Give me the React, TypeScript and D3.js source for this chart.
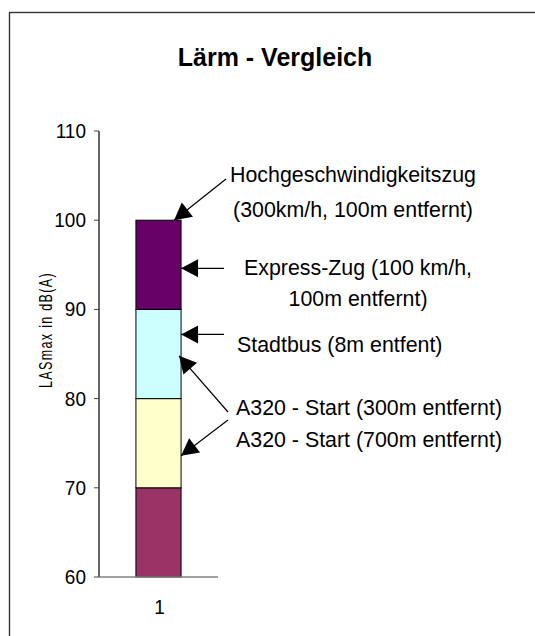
import React from 'react';
import * as d3 from 'd3';

// chart data
const categories = ['1'];
const seriesNames = ['Reihe1', 'Reihe2', 'Reihe3', 'Reihe4'];
const seriesValues = [70, 10, 10, 10];
const yTicks = [60, 70, 80, 90, 100, 110];
const yDomain = [60, 110];

// annotations: text lines and the level (dB) the arrow points at
const annotationLines = [
    ['Hochgeschwindigkeitszug', '(300km/h, 100m entfernt)'],
    ['Express-Zug (100 km/h,', '100m entfernt)'],
    ['Stadtbus (8m entfent)'],
    ['A320 - Start (300m entfernt)'],
    ['A320 - Start (700m entfernt)'],
];
const annotationLevels = [100, 94.6, 87.2, 84.8, 73.6];

const colors = ['#993366', '#FFFFCC', '#CCFFFF', '#660066'];

const W = 535;
const H = 636;
const FONT = '"Liberation Sans", Arial, sans-serif';

// where each annotation text block sits and where its arrow starts
const labelLayout = [
    { x: 353, ys: [182, 217], anchor: 'middle', from: [226, 179], tipDx: -7 },
    { x: 358, ys: [275, 306], anchor: 'middle', from: [224, null], tipDx: 0 },
    { x: 237, ys: [352], anchor: 'start', from: [224, null], tipDx: 0 },
    { x: 236, ys: [415], anchor: 'start', from: [228, 412], tipDx: -2 },
    { x: 236, ys: [447], anchor: 'start', from: [228, 420], tipDx: 0 },
];

const SqText: React.FC<{ x: number; y: number; sx?: number; size: number; anchor?: string; weight?: string; children: React.ReactNode }> =
    ({ x, y, sx = 1, size, anchor = 'start', weight = 'normal', children }) => (
        <text transform={`translate(${x},${y}) scale(${sx},1)`} fontSize={size} fontFamily={FONT}
            textAnchor={anchor} fontWeight={weight} fill="#000">{children}</text>
    );

function arrowHead(x1: number, y1: number, x2: number, y2: number, len = 17, half = 9) {
    const a = Math.atan2(y2 - y1, x2 - x1);
    const bx = x2 - len * Math.cos(a);
    const by = y2 - len * Math.sin(a);
    const px = -Math.sin(a) * half;
    const py = Math.cos(a) * half;
    return `${x2},${y2} ${bx + px},${by + py} ${bx - px},${by - py}`;
}

export default function App() {
    const y = d3.scaleLinear().domain(yDomain).range([577, 131]);
    const x = d3.scaleBand().domain(categories).range([99, 218]).paddingInner(0.45).paddingOuter(0.45);

    const table = categories.map((c) => {
        const row: Record<string, any> = { cat: c };
        seriesNames.forEach((s, i) => { row[s] = seriesValues[i]; });
        return row;
    });
    const stacked = d3.stack().keys(seriesNames)(table as any);

    const bx = x(categories[0]) as number;
    const bw = x.bandwidth();
    const axisX = 99;
    const baseY = y(yDomain[0]);

    return (
        <svg width={W} height={H} style={{ position: 'absolute', left: 0, top: 0, background: '#fff' }}>
            <rect x={9.5} y={12.5} width={W + 20} height={H} fill="#fff" stroke="#333" strokeWidth={1.4} />

            <SqText x={275} y={66} size={25} weight="bold" anchor="middle">Lärm - Vergleich</SqText>

            {/* y axis label */}
            <text transform={`translate(52,330) rotate(-90) scale(0.66,1)`} fontSize={19} fontFamily={FONT}
                textAnchor="middle" letterSpacing={2} fill="#000">LASmax in dB(A)</text>

            {/* bars */}
            {stacked.map((layer, i) =>
                layer.map((d, j) => {
                    const lo = Math.max(d[0], yDomain[0]);
                    const hi = d[1];
                    return (
                        <rect key={`${i}-${j}`} x={x(categories[j])} y={y(hi)} width={bw} height={y(lo) - y(hi)}
                            fill={colors[i]} stroke="#000" strokeWidth={1} />
                    );
                })
            )}

            {/* axes */}
            <line x1={axisX} x2={axisX} y1={y(yDomain[1])} y2={baseY} stroke="#000" strokeWidth={1.2} />
            <line x1={axisX} x2={218} y1={baseY} y2={baseY} stroke="#808080" strokeWidth={1.5} />
            {yTicks.map((t) => (
                <g key={t}>
                    <line x1={94} x2={axisX} y1={y(t)} y2={y(t)} stroke="#444" strokeWidth={1} />
                    <SqText x={86} y={y(t) + 7} size={20} sx={0.95} anchor="end">{t}</SqText>
                </g>
            ))}
            {categories.map((c) => (
                <SqText key={c} x={(x(c) as number) + bw / 2 + 1} y={614} size={20} sx={0.95} anchor="middle">{c}</SqText>
            ))}

            {/* annotations */}
            {annotationLines.map((lines, i) => {
                const L = labelLayout[i];
                const tx = bx + bw + L.tipDx;
                const ty = y(annotationLevels[i]);
                const fx = L.from[0];
                const fy = L.from[1] === null ? ty : (L.from[1] as number);
                return (
                    <g key={i}>
                        <line x1={fx} y1={fy} x2={tx} y2={ty} stroke="#000" strokeWidth={1.2} />
                        <polygon points={arrowHead(fx, fy, tx, ty)} fill="#000" />
                        {lines.map((ln, k) => (
                            <SqText key={k} x={L.x} y={L.ys[k]} size={23} sx={0.93} anchor={L.anchor}>{ln}</SqText>
                        ))}
                    </g>
                );
            })}
        </svg>
    );
}
